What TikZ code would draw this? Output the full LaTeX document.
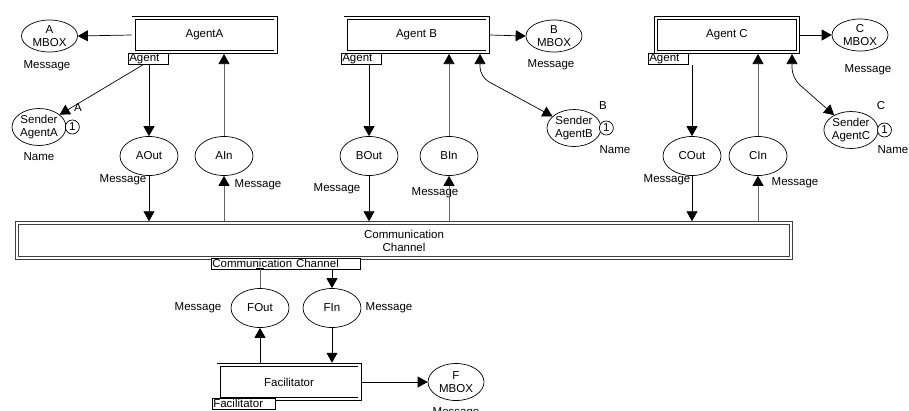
\documentclass[tikz,border=0pt]{standalone}
\usepackage{fontspec}
\setmainfont{Liberation Sans}
\usetikzlibrary{arrows.meta,shapes.geometric}

\begin{document}
\begin{tikzpicture}[x=1pt, y=-1pt]
\tikzstyle{txt}=[font=\fontsize{11.5}{13}\selectfont, inner sep=0pt, align=center]
\tikzstyle{trans}=[txt, draw, double, double distance=2.2pt, line width=0.9pt, minimum width=142pt, minimum height=34pt, outer sep=2pt]
\tikzstyle{place}=[txt, draw, ellipse, line width=0.7pt, minimum width=58pt, minimum height=39pt]
\tikzstyle{mbox}=[place, minimum width=56pt, minimum height=32pt]
\tikzstyle{sender}=[place, minimum width=54pt, minimum height=37pt]
\tikzstyle{token}=[txt, draw, circle, fill=white, minimum size=14pt, line width=0.7pt]
\tikzstyle{tag}=[txt, draw, fill=white, line width=0.6pt, anchor=north west, inner xsep=1pt, minimum height=11pt, align=left]
\tikzstyle{arc}=[line width=0.7pt, -{Triangle[length=10pt, width=11pt]}]
\tikzstyle{inarc}=[arc, draw=black!60, -{Triangle[length=10pt, width=11pt, color=black]}]
\tikzstyle{botharc}=[arc, {Triangle[length=10pt, width=11pt]}-{Triangle[length=10pt, width=11pt]}, rounded corners=10pt]
\useasboundingbox (0,0) rectangle (909,410);

% agents
\node[trans] (agA) at (204.5,35) {AgentA};
\node[trans] (agB) at (416.5,35) {Agent B};
\node[trans] (agC) at (727,35) {Agent C};
\node[tag, text width=38pt] (tgA) at (128,53) {Agent};
\node[tag, text width=38pt] (tgB) at (341,53) {Agent};
\node[tag, text width=38pt] (tgC) at (648,53) {Agent};

\node[mbox] (mbA) at (49.5,36) {A\\MBOX};
\node[mbox] (mbB) at (554,36) {B\\MBOX};
\node[mbox] (mbC) at (860,35) {C\\MBOX};
\node[txt] (lmA) at (47,66) {Message};
\node[txt] (lmB) at (551,65) {Message};
\node[txt] (lmC) at (868,70) {Message};

\node[sender] (sdA) at (39,127) {Sender\\AgentA};
\node[sender] (sdB) at (574,128) {Sender\\AgentB};
\node[sender] (sdC) at (851,130) {Sender\\AgentC};
\node[token] (tkA) at ([xshift=6pt]sdA.east) {1};
\node[token] (tkB) at ([xshift=5pt]sdB.east) {1};
\node[token] (tkC) at ([xshift=6pt]sdC.east) {1};
\node[txt] (lsA) at (78,108) {A};
\node[txt] (lsB) at (603,106) {B};
\node[txt] (lsC) at (881,106) {C};
\node[txt] (nmA) at (39,157) {Name};
\node[txt] (nmB) at (615,150) {Name};
\node[txt] (nmC) at (893,150) {Name};

\node[place] (aoA) at (149,156) {AOut};
\node[place] (aiA) at (224,156) {AIn};
\node[place] (aoB) at (369,156) {BOut};
\node[place] (aiB) at (449,156) {BIn};
\node[place] (aoC) at (692,156) {COut};
\node[place] (aiC) at (758,156) {CIn};
\node[txt] (loA) at (123,180) {Message};
\node[txt] (liA) at (258,185) {Message};
\node[txt] (loB) at (337,189) {Message};
\node[txt] (liB) at (435,193) {Message};
\node[txt] (loC) at (667,180) {Message};
\node[txt] (liC) at (795,183) {Message};

% channel and facilitator
\node[trans, draw=black!75, minimum width=774pt, minimum height=34.5pt] (ch) at (404,240.5) {Communication\\Channel};
\node[tag, text width=147pt] (tgCh) at (211,258) {Communication Channel};
\node[place] (foF) at (260,308) {FOut};
\node[place] (fiF) at (332,308) {FIn};
\node[txt] (loF) at (198,308) {Message};
\node[txt] (liF) at (389,308) {Message};
\node[trans, minimum width=141pt, minimum height=34.5pt] (fac) at (289,382) {Facilitator};
\node[tag, text width=61pt] (tgF) at (212,398) {Facilitator};
\node[mbox, minimum height=37pt] (mbF) at (456,382) {F\\MBOX};
\node[txt] (lmF) at (456,413) {Message};

\coordinate (kB) at (480,77);
\coordinate (kC) at (792,78);

\draw[arc] (agA.west) -- (mbA.east);
\draw[arc] (agB.east) -- (mbB.west);
\draw[arc] (agC.east) -- (mbC.west);
\draw[arc] ([xshift=-5pt]tgA.south) -- (sdA);
\draw[botharc] (kB |- agB.south) -- (kB) -- (sdB);
\draw[botharc] (kC |- agC.south) -- (kC) -- (sdC);

\draw[arc] (tgA.south -| aoA.north) -- (aoA.north);
\draw[inarc] (aiA.north) -- (aiA.north |- agA.south);
\draw[arc] (aoA.south) -- (aoA.south |- ch.north);
\draw[inarc] (aiA.south |- ch.north) -- (aiA.south);
\draw[arc] (tgB.south -| aoB.north) -- (aoB.north);
\draw[inarc] (aiB.north) -- (aiB.north |- agB.south);
\draw[arc] (aoB.south) -- (aoB.south |- ch.north);
\draw[inarc] (aiB.south |- ch.north) -- (aiB.south);
\draw[arc] (tgC.south -| aoC.north) -- (aoC.north);
\draw[inarc] (aiC.north) -- (aiC.north |- agC.south);
\draw[arc] (aoC.south) -- (aoC.south |- ch.north);
\draw[inarc] (aiC.south |- ch.north) -- (aiC.south);

\draw[line width=0.7pt, draw=black!60, -{Bar[width=8pt, color=black]}, shorten >=-2pt] (foF.north) -- (foF.north |- tgCh.south);
\draw[arc] (tgCh.south -| fiF.north) -- (fiF.north);
\draw[arc] (fac.north -| foF.south) -- (foF.south);
\draw[arc] (fiF.south) -- (fiF.south |- fac.north);
\draw[arc] (fac.east) -- (mbF.west);
\end{tikzpicture}
\end{document}
